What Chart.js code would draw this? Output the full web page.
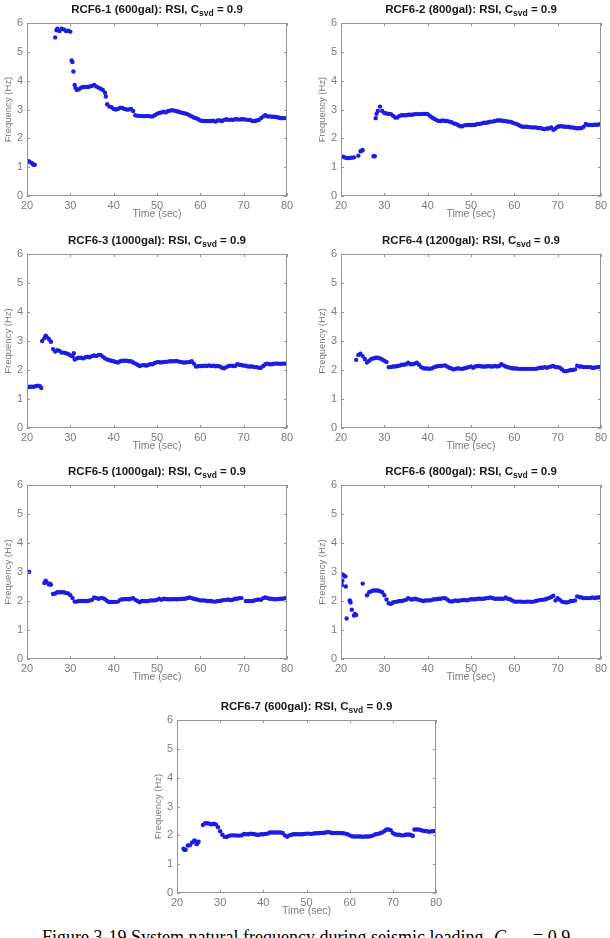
<!DOCTYPE html>
<html>
<head>
<meta charset="utf-8">
<script src="https://cdn.jsdelivr.net/npm/chart.js@4.4.1/dist/chart.umd.min.js"></script>
<style>
    html, body { margin: 0; padding: 0; background: #fff; }
    body { width: 610px; height: 938px; position: relative; overflow: hidden;
           font-family: "Liberation Sans", Arial, sans-serif; }
    .panel { position: absolute; }
    .ttl { position: absolute; transform: translateX(-50%); white-space: nowrap;
           font-weight: bold; font-size: 11.5px; line-height: 14px; color: #1a1a1a; }
    .ttl sub { font-size: 8.5px; vertical-align: -3px; line-height: 0; }
    .cap { position: absolute; top: 927px; white-space: nowrap;
           font-family: "Liberation Serif", "Times New Roman", serif; font-size: 18px; color: #000; }
    .cap sub { font-size: 12px; }
</style>
</head>
<body>

<div id="root"></div>
<span class="cap" style="left:42px">Figure 3-19 System natural frequency during seismic loading</span>
<span class="cap" style="left:494px"><i>C<sub>svd</sub></i></span>
<span class="cap" style="left:533px">= 0.9</span>

<script>
// ── Datos (paso de 0.5 s) ─────────────────────────────────────────────────
const TIME = [
    20, 20.5, 21, 21.5, 22, 22.5, 23, 23.5, 24, 24.5,
    25, 25.5, 26, 26.5, 27, 27.5, 28, 28.5, 29, 29.5,
    30, 30.5, 31, 31.5, 32, 32.5, 33, 33.5, 34, 34.5,
    35, 35.5, 36, 36.5, 37, 37.5, 38, 38.5, 39, 39.5,
    40, 40.5, 41, 41.5, 42, 42.5, 43, 43.5, 44, 44.5,
    45, 45.5, 46, 46.5, 47, 47.5, 48, 48.5, 49, 49.5,
    50, 50.5, 51, 51.5, 52, 52.5, 53, 53.5, 54, 54.5,
    55, 55.5, 56, 56.5, 57, 57.5, 58, 58.5, 59, 59.5,
    60, 60.5, 61, 61.5, 62, 62.5, 63, 63.5, 64, 64.5,
    65, 65.5, 66, 66.5, 67, 67.5, 68, 68.5, 69, 69.5,
    70, 70.5, 71, 71.5, 72, 72.5, 73, 73.5, 74, 74.5,
    75, 75.5, 76, 76.5, 77, 77.5, 78, 78.5, 79, 79.5,
    80,
];

const X_TICKS = [20, 30, 40, 50, 60, 70, 80];
const Y_TICKS = [0, 1, 2, 3, 4, 5, 6];

const TITLES = [
    ['RCF6-1 (600gal): RSI, C', 'svd', ' = 0.9'],
    ['RCF6-2 (800gal): RSI, C', 'svd', ' = 0.9'],
    ['RCF6-3 (1000gal): RSI, C', 'svd', ' = 0.9'],
    ['RCF6-4 (1200gal): RSI, C', 'svd', ' = 0.9'],
    ['RCF6-5 (1000gal): RSI, C', 'svd', ' = 0.9'],
    ['RCF6-6 (800gal): RSI, C', 'svd', ' = 0.9'],
    ['RCF6-7 (600gal): RSI, C', 'svd', ' = 0.9'],
];

const F1 = [
    1.2, 1.2, 1.15, 1.08, null, null, null, null, null, null,
    null, null, null, 5.5, 5.8, 5.72, 5.8, 5.78, 5.72, 5.73,
    5.7, 4.65, 3.85, 3.68, 3.7, 3.76, 3.78, 3.78, 3.78, 3.8,
    3.82, 3.85, 3.8, 3.76, 3.72, 3.68, 3.58, 3.18, 3.1, 3.08,
    3.02, 3.0, 3.02, 3.06, 3.05, 3.02, 3.0, 3.0, 3.02, 2.95,
    2.8, 2.78, 2.78, 2.78, 2.77, 2.77, 2.78, 2.76, 2.76, 2.8,
    2.85, 2.88, 2.9, 2.92, 2.9, 2.94, 2.96, 2.98, 2.96, 2.94,
    2.92, 2.9, 2.88, 2.86, 2.84, 2.8, 2.76, 2.72, 2.7, 2.66,
    2.62, 2.6, 2.6, 2.6, 2.6, 2.6, 2.61, 2.58, 2.62, 2.62,
    2.6, 2.64, 2.66, 2.64, 2.65, 2.64, 2.66, 2.66, 2.65, 2.66,
    2.66, 2.65, 2.64, 2.64, 2.6, 2.6, 2.62, 2.64, 2.7, 2.76,
    2.8, 2.76, 2.76, 2.75, 2.75, 2.74, 2.72, 2.7, 2.7, 2.7,
    2.7,
];
const F1_EX_X = [20.3, 21.3, 21.8, 26.8, 30.3, 30.7, 31.2, 38.2];
const F1_EX_Y = [1.2, 1.12, 1.08, 5.75, 4.7, 4.32, 3.75, 3.45];

const F2 = [
    null, 1.36, 1.33, 1.32, 1.32, 1.33, 1.34, null, 1.4, 1.55,
    1.6, null, null, null, null, 1.38, 2.7, 2.95, 3.1, 2.95,
    2.88, 2.86, 2.85, 2.84, 2.78, 2.72, 2.72, 2.78, 2.8, 2.8,
    2.8, 2.82, 2.82, 2.82, 2.84, 2.84, 2.84, 2.84, 2.85, 2.85,
    2.84, 2.78, 2.72, 2.68, 2.64, 2.6, 2.6, 2.62, 2.6, 2.6,
    2.58, 2.56, 2.52, 2.5, 2.46, 2.42, 2.42, 2.45, 2.46, 2.46,
    2.46, 2.46, 2.47, 2.5, 2.5, 2.52, 2.54, 2.54, 2.56, 2.58,
    2.58, 2.6, 2.62, 2.62, 2.62, 2.6, 2.6, 2.58, 2.58, 2.55,
    2.52, 2.5, 2.46, 2.42, 2.4, 2.4, 2.4, 2.39, 2.38, 2.38,
    2.38, 2.36, 2.36, 2.33, 2.32, 2.34, 2.34, 2.38, 2.3, 2.34,
    2.4, 2.42, 2.42, 2.4, 2.4, 2.4, 2.38, 2.38, 2.36, 2.35,
    2.35, 2.36, 2.4, 2.5, 2.46, 2.46, 2.46, 2.47, 2.47, 2.48,
    2.5,
];
const F2_EX_X = [27.8, 28.2, 24.9];
const F2_EX_Y = [1.38, 2.85, 1.58];

const F3 = [
    1.4, 1.42, 1.42, 1.42, 1.44, 1.46, 1.44, 3.0, 3.1, 3.15,
    3.08, 2.98, 2.72, 2.64, 2.68, 2.66, 2.6, 2.6, 2.58, 2.55,
    2.5, 2.47, 2.36, 2.4, 2.42, 2.42, 2.4, 2.44, 2.46, 2.44,
    2.48, 2.5, 2.48, 2.52, 2.52, 2.46, 2.4, 2.36, 2.34, 2.32,
    2.3, 2.28, 2.26, 2.3, 2.32, 2.32, 2.32, 2.3, 2.3, 2.26,
    2.22, 2.18, 2.14, 2.16, 2.17, 2.15, 2.18, 2.2, 2.2, 2.24,
    2.27, 2.27, 2.26, 2.28, 2.28, 2.29, 2.3, 2.3, 2.3, 2.31,
    2.29, 2.28, 2.26, 2.26, 2.27, 2.27, 2.3, 2.22, 2.12, 2.13,
    2.14, 2.14, 2.15, 2.14, 2.16, 2.14, 2.15, 2.13, 2.14, 2.12,
    2.08, 2.06, 2.1, 2.14, 2.15, 2.14, 2.14, 2.2, 2.18, 2.17,
    2.15, 2.15, 2.12, 2.12, 2.12, 2.1, 2.1, 2.08, 2.08, 2.14,
    2.2, 2.22, 2.2, 2.2, 2.22, 2.22, 2.22, 2.21, 2.22, 2.22,
    2.22,
];
const F3_EX_X = [23.3, 30.8, 24.3, 25.5];
const F3_EX_Y = [1.38, 2.58, 3.18, 2.98];

const F4 = [
    null, null, null, null, null, null, null, 2.35, 2.52, 2.56,
    2.48, 2.38, 2.26, 2.32, 2.38, 2.4, 2.42, 2.42, 2.4, 2.36,
    2.32, 2.28, 2.1, 2.1, 2.12, 2.12, 2.14, 2.15, 2.18, 2.18,
    2.2, 2.25, 2.2, 2.2, 2.22, 2.25, 2.18, 2.1, 2.06, 2.05,
    2.05, 2.04, 2.06, 2.1, 2.12, 2.14, 2.14, 2.15, 2.16, 2.12,
    2.08, 2.05, 2.02, 2.04, 2.06, 2.04, 2.04, 2.06, 2.08, 2.1,
    2.12, 2.08, 2.12, 2.14, 2.14, 2.12, 2.12, 2.12, 2.14, 2.12,
    2.12, 2.14, 2.12, 2.14, 2.2, 2.16, 2.12, 2.1, 2.08, 2.06,
    2.05, 2.05, 2.04, 2.04, 2.04, 2.04, 2.04, 2.04, 2.04, 2.04,
    2.04, 2.06, 2.08, 2.08, 2.1, 2.08, 2.1, 2.12, 2.14, 2.1,
    2.1, 2.08, 2.02, 1.96, 1.96, 1.98, 2.0, 2.0, 2.02, 2.15,
    2.12, 2.12, 2.1, 2.1, 2.1, 2.1, 2.08, 2.08, 2.1, 2.1,
    2.12,
];
const F4_EX_X = [];
const F4_EX_Y = [];

const F5 = [
    3.02, 3.0, null, null, null, null, null, null, 2.62, 2.66,
    2.58, 2.56, 2.24, 2.26, 2.3, 2.3, 2.3, 2.3, 2.28, 2.26,
    2.2, 2.1, 1.98, 1.98, 2.0, 2.0, 2.0, 2.0, 2.0, 2.02,
    2.04, 2.12, 2.1, 2.08, 2.1, 2.1, 2.06, 2.0, 1.96, 1.97,
    1.97, 1.97, 1.98, 2.04, 2.06, 2.06, 2.07, 2.06, 2.08, 2.1,
    2.04, 2.0, 1.96, 2.0, 2.0, 1.99, 2.0, 2.02, 2.02, 2.02,
    2.04, 2.08, 2.04, 2.08, 2.07, 2.06, 2.06, 2.06, 2.07, 2.06,
    2.07, 2.07, 2.08, 2.08, 2.1, 2.12, 2.1, 2.08, 2.06, 2.04,
    2.02, 2.02, 2.02, 2.0, 2.0, 2.0, 1.98, 1.98, 2.0, 2.0,
    2.02, 2.04, 2.04, 2.05, 2.03, 2.04, 2.08, 2.08, 2.1, 2.1,
    null, 2.0, 2.0, 2.0, 2.0, 2.02, 2.04, 2.05, 2.04, 2.1,
    2.12, 2.1, 2.08, 2.08, 2.06, 2.06, 2.07, 2.08, 2.08, 2.1,
    2.12,
];
const F5_EX_X = [25.3, 24.3];
const F5_EX_Y = [2.6, 2.7];

const F6 = [
    2.6, 2.9, 2.85, null, 2.02, 1.7, 1.5, 1.52, null, null,
    2.6, null, 2.2, 2.3, 2.34, 2.36, 2.36, 2.36, 2.34, 2.3,
    2.2, 2.05, 1.92, 1.9, 1.95, 1.97, 1.98, 2.0, 2.0, 2.02,
    2.04, 2.1, 2.06, 2.05, 2.08, 2.06, 2.04, 2.02, 2.0, 2.02,
    2.02, 2.02, 2.04, 2.06, 2.06, 2.08, 2.08, 2.1, 2.1, 2.05,
    2.0, 1.98, 2.0, 2.02, 2.0, 2.02, 2.03, 2.04, 2.02, 2.04,
    2.06, 2.06, 2.06, 2.08, 2.08, 2.08, 2.08, 2.1, 2.1, 2.12,
    2.1, 2.08, 2.08, 2.08, 2.08, 2.08, 2.12, 2.08, 2.06, 2.02,
    1.98, 1.98, 1.98, 1.98, 1.97, 1.97, 1.98, 1.98, 1.97, 1.98,
    2.0, 2.02, 2.04, 2.04, 2.05, 2.08, 2.1, 2.14, 2.18, 2.02,
    2.1, 2.04, 1.98, 1.96, 1.95, 1.96, 2.0, 2.0, 2.02, 2.16,
    2.14, 2.12, 2.1, 2.1, 2.1, 2.1, 2.12, 2.1, 2.12, 2.12,
    2.15,
];
const F6_EX_X = [20.2, 20.3, 20.8, 21.1, 21.3, 22.1, 22.2, 23.2];
const F6_EX_Y = [2.55, 2.7, 2.85, 2.5, 1.4, 2.0, 1.95, 1.55];

const F7 = [
    null, null, null, 1.54, 1.5, 1.65, 1.66, 1.75, 1.82, 1.7,
    1.78, null, 2.36, 2.42, 2.42, 2.4, 2.38, 2.4, 2.38, 2.28,
    2.14, 2.02, 1.95, 1.94, 1.98, 2.0, 2.0, 2.0, 1.99, 1.99,
    2.0, 2.05, 2.04, 2.04, 2.06, 2.05, 2.04, 2.02, 2.02, 2.04,
    2.04, 2.05, 2.06, 2.1, 2.1, 2.1, 2.1, 2.1, 2.1, 2.08,
    2.0, 1.95, 2.0, 2.02, 2.04, 2.04, 2.04, 2.04, 2.04, 2.05,
    2.06, 2.06, 2.05, 2.06, 2.07, 2.07, 2.08, 2.08, 2.09, 2.1,
    2.12, 2.1, 2.08, 2.08, 2.08, 2.08, 2.08, 2.07, 2.06, 2.04,
    2.0, 1.97, 1.96, 1.96, 1.96, 1.96, 1.95, 1.96, 1.96, 1.96,
    1.98, 2.0, 2.04, 2.05, 2.07, 2.1, 2.14, 2.2, 2.2, 2.18,
    2.08, 2.04, 2.02, 2.02, 2.0, 2.0, 2.02, 2.03, 2.02, 2.0,
    2.2, 2.2, 2.2, 2.18, 2.16, 2.15, 2.14, 2.12, 2.14, 2.14,
    2.16,
];
const F7_EX_X = [21.7, 24.3, 24.7, 74.6];
const F7_EX_Y = [1.5, 1.8, 1.72, 1.98];

const SERIES = [
    [F1, F1_EX_X, F1_EX_Y], [F2, F2_EX_X, F2_EX_Y], [F3, F3_EX_X, F3_EX_Y],
    [F4, F4_EX_X, F4_EX_Y], [F5, F5_EX_X, F5_EX_Y], [F6, F6_EX_X, F6_EX_Y],
    [F7, F7_EX_X, F7_EX_Y],
];

// ── Estilo y posicion de cada area de trazado (left, right, top, bottom) ──
const AREAS = [
    [27, 287, 23, 196], [341, 601, 23, 196],
    [27, 287, 254, 428], [341, 601, 254, 428],
    [27, 287, 485, 659], [341, 601, 485, 659],
    [177, 436, 720, 893],
];
const AXIS_W = 27, AXIS_H = 26, PAD_TOP = 22, PAD_RIGHT = 12;
const GRAY   = '#959595';
const TXT    = '#7c7c7c';
const DOT    = '#1c1ce2';

// Marco completo y marcas de division hacia dentro (estilo MATLAB)
const frame = {
    id: 'frame',
    afterDraw(chart) {
        const { ctx, chartArea: a, scales: { x, y } } = chart;
        const seg = (x0, y0, x1, y1) => { ctx.beginPath(); ctx.moveTo(x0, y0); ctx.lineTo(x1, y1); ctx.stroke(); };
        ctx.save();
        ctx.strokeStyle = GRAY;
        ctx.lineWidth = 1;
        ctx.strokeRect(a.left + 0.5, a.top + 0.5, a.width - 1, a.height - 1);
        x.ticks.forEach(t => {
            const px = Math.round(x.getPixelForValue(t.value)) + 0.5;
            seg(px, a.bottom, px, a.bottom - 3);
            seg(px, a.top, px, a.top + 3);
        });
        y.ticks.forEach(t => {
            const py = Math.round(y.getPixelForValue(t.value)) + 0.5;
            seg(a.left, py, a.left + 3, py);
            seg(a.right, py, a.right - 3, py);
        });
        ctx.restore();
    },
};

function buildPanel(i) {
    const [L, R, T, B] = AREAS[i];
    const [vals, exX, exY] = SERIES[i];
    const w = R - L + AXIS_W + PAD_RIGHT;
    const h = B - T + PAD_TOP + AXIS_H;

    const box = document.createElement('div');
    box.className = 'panel';
    box.style.left = (L - AXIS_W) + 'px';
    box.style.top  = (T - PAD_TOP) + 'px';
    const cv = document.createElement('canvas');
    cv.width = w; cv.height = h;
    cv.style.width = w + 'px'; cv.style.height = h + 'px';
    box.appendChild(cv);
    document.getElementById('root').appendChild(box);

    const ttl = document.createElement('div');
    ttl.className = 'ttl';
    ttl.style.left = ((L + R) / 2) + 'px';
    ttl.style.top  = (T - 21) + 'px';
    const [a, sub, b] = TITLES[i];
    ttl.append(a);
    const s = document.createElement('sub'); s.textContent = sub; ttl.append(s);
    ttl.append(b);
    document.getElementById('root').appendChild(ttl);

    const font = { family: '"Liberation Sans", Arial, sans-serif', size: 11 };

    new Chart(cv.getContext('2d'), {
        type: 'scatter',
        data: {
            datasets: [
                { data: TIME.map((t, k) => ({ x: t, y: vals[k] })) },
                { data: exX.map((t, k) => ({ x: t, y: exY[k] })) },
            ],
        },
        options: {
            responsive: false, animation: false, devicePixelRatio: 1,
            layout: { padding: { left: 0, top: PAD_TOP, right: PAD_RIGHT, bottom: 0 } },
            elements: { point: { radius: 2.2, backgroundColor: DOT, borderWidth: 0, hoverRadius: 2.2 } },
            plugins: { legend: { display: false }, tooltip: { enabled: false } },
            scales: {
                x: {
                    type: 'linear', min: 20, max: 80,
                    afterBuildTicks: sc => { sc.ticks = X_TICKS.map(v => ({ value: v })); },
                    afterFit: sc => { sc.height = AXIS_H; },
                    grid: { display: false, drawTicks: false }, border: { display: false },
                    ticks: { color: TXT, font, padding: 3, maxRotation: 0 },
                    title: { display: true, text: 'Time (sec)', color: TXT, font: { ...font, size: 10.5 }, padding: { top: 0, bottom: 2 } },
                },
                y: {
                    type: 'linear', min: 0, max: 6,
                    afterBuildTicks: sc => { sc.ticks = Y_TICKS.map(v => ({ value: v })); },
                    afterFit: sc => { sc.width = AXIS_W; },
                    grid: { display: false, drawTicks: false }, border: { display: false },
                    ticks: { color: TXT, font, padding: 4 },
                    title: { display: true, text: 'Frequency (Hz)', color: TXT, font: { ...font, size: 9.5 }, padding: { top: 3, bottom: 0 } },
                },
            },
        },
        plugins: [frame],
    });
}

AREAS.forEach((_, i) => buildPanel(i));
</script>
</body>
</html>
